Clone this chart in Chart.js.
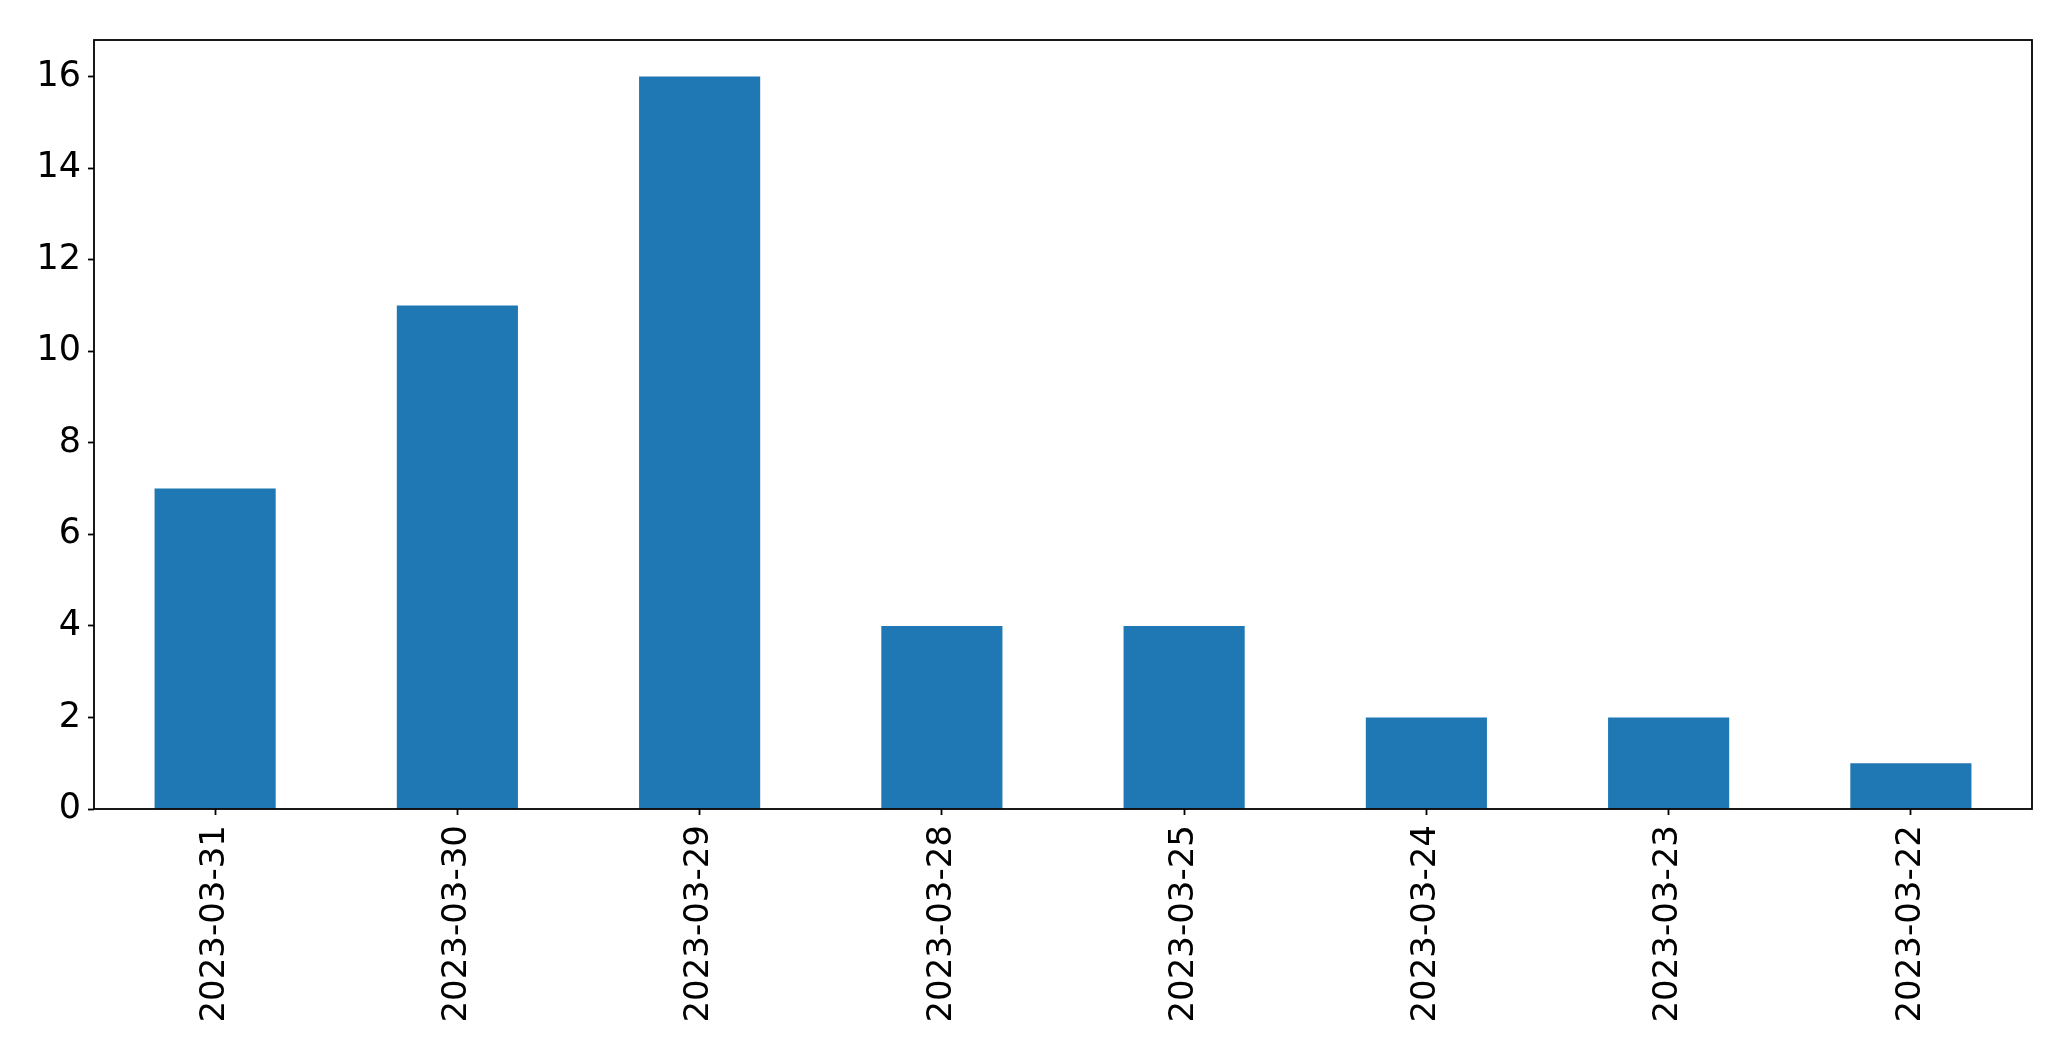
<!DOCTYPE html>
<html>
<head>
<meta charset="utf-8">
<script src="https://cdn.jsdelivr.net/npm/chart.js@4.4.1/dist/chart.umd.min.js"></script>
<style>
	html, body { margin: 0; padding: 0; background: #fff; }
	#wrap { width: 2071px; height: 1061px; }
</style>
</head>
<body>
<div id="wrap"><canvas id="chart" width="2071" height="1061"></canvas></div>
<script>
	// data
	var dates = ['2023-03-31', '2023-03-30', '2023-03-29', '2023-03-28', '2023-03-25', '2023-03-24', '2023-03-23', '2023-03-22'];
	var counts = [7, 11, 16, 4, 4, 2, 2, 1];
	var yTicks = [0, 2, 4, 6, 8, 10, 12, 14, 16];
	var yMax = 16.8;

	// draws the box round the plot area, like matplotlib's spines
	var frame = {
		id: 'frame',
		afterDraw: function(chart) {
			var a = chart.chartArea;
			var ctx = chart.ctx;
			ctx.save();
			ctx.strokeStyle = '#000';
			ctx.lineWidth = 1.8;
			ctx.strokeRect(a.left, a.top, a.right - a.left, a.bottom - a.top);
			ctx.restore();
		}
	};

	new Chart(document.getElementById('chart').getContext('2d'), {
		type: 'bar',
		data: {
			labels: dates,
			datasets: [{
				data: counts,
				backgroundColor: '#1f77b4',
				borderWidth: 0,
				barPercentage: 0.5,
				categoryPercentage: 1.0
			}]
		},
		options: {
			responsive: false,
			animation: false,
			layout: { padding: { left: 0, top: 40, right: 39, bottom: 0 } },
			plugins: {
				legend: { display: false },
				tooltip: { enabled: false }
			},
			scales: {
				x: {
					offset: true,
					grid: { display: true, drawOnChartArea: false, tickLength: 6, tickColor: '#000', tickWidth: 1.8, offset: false },
					border: { display: false },
					ticks: {
						color: '#000',
						font: { family: 'DejaVu Sans', size: 34 },
						maxRotation: 90,
						minRotation: 90,
						padding: 10,
						autoSkip: false
					},
					afterFit: function(scale) { scale.height = 252; }
				},
				y: {
					min: 0,
					max: yMax,
					grid: { display: true, drawOnChartArea: false, tickLength: 6, tickColor: '#000', tickWidth: 1.8 },
					border: { display: false },
					ticks: {
						color: '#000',
						font: { family: 'DejaVu Sans', size: 35 },
						padding: 7
					},
					afterBuildTicks: function(scale) {
						scale.ticks = yTicks.map(function(v) { return { value: v }; });
					},
					afterFit: function(scale) { scale.width = 94; }
				}
			}
		},
		plugins: [frame]
	});
</script>
</body>
</html>
